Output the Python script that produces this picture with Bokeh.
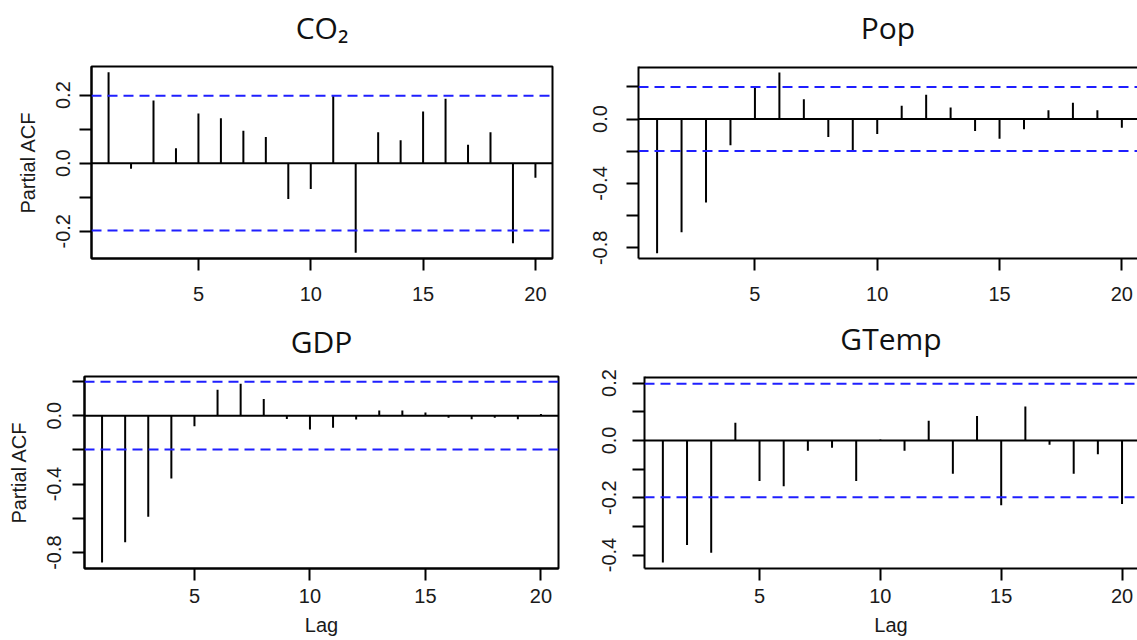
from bokeh.plotting import figure
from bokeh.models import Span, FixedTicker, PrintfTickFormatter, Range1d, ColumnDataSource, Title
from bokeh.layouts import row, column
from bokeh.embed import file_html
from bokeh.resources import INLINE

lags = list(range(1, 21))
co2 = [0.267, -0.016, 0.184, 0.044, 0.146, 0.132, 0.095, 0.077, -0.105, -0.076,
       0.199, -0.263, 0.091, 0.067, 0.152, 0.189, 0.054, 0.091, -0.235, -0.043]
pop = [-0.833, -0.703, -0.518, -0.163, 0.198, 0.289, 0.122, -0.111, -0.198, -0.093,
       0.082, 0.151, 0.072, -0.074, -0.122, -0.064, 0.054, 0.101, 0.054, -0.054]
gdp = [-0.858, -0.740, -0.590, -0.367, -0.062, 0.151, 0.186, 0.097, -0.019, -0.080,
       -0.070, -0.023, 0.031, 0.031, 0.019, -0.012, -0.021, -0.012, -0.021, 0.010]
gtemp = [-0.426, -0.365, -0.392, 0.062, -0.142, -0.160, -0.036, -0.026, -0.142, 0.003,
         -0.036, 0.069, -0.116, 0.085, -0.226, 0.118, -0.015, -0.116, -0.048, -0.222]
clim = 0.198
x_ticks = [5, 10, 15, 20]

AXIS_FONT = "Liberation Sans"
TITLE_FONT = "Open Sans"


def style_axis(ax, label_standoff):
    ax.axis_line_color = "black"
    ax.axis_line_width = 2
    ax.major_tick_line_color = "black"
    ax.major_tick_line_width = 2
    ax.major_tick_out = 12
    ax.major_tick_in = 0
    ax.minor_tick_line_color = "black"
    ax.minor_tick_line_width = 2
    ax.minor_tick_out = 12
    ax.minor_tick_in = 0
    ax.major_label_text_font = AXIS_FONT
    ax.major_label_text_font_size = "20px"
    ax.major_label_text_color = "#1a1a1a"
    ax.major_label_standoff = label_standoff
    ax.axis_label_text_font = AXIS_FONT
    ax.axis_label_text_font_size = "20px"
    ax.axis_label_text_font_style = "normal"
    ax.axis_label_text_color = "#1a1a1a"


def panel(title, vals, y_range, x_end, major, minor, width, height,
          bl, br, bt, bb, x_std, y_std, title_gap,
          ylabel=None, xlabel=None, full_box=True):
    p = figure(width=width, height=height, x_range=Range1d(0.24, x_end),
               y_range=Range1d(*y_range), output_backend="svg",
               toolbar_location=None, min_border_left=bl, min_border_right=br,
               min_border_top=bt, min_border_bottom=bb)
    p.grid.visible = False
    p.background_fill_color = "white"
    p.border_fill_color = "white"

    xa = p.below[0]
    ya = p.left[0]
    xa.ticker = FixedTicker(ticks=x_ticks)
    ya.ticker = FixedTicker(ticks=major, minor_ticks=minor)
    ya.formatter = PrintfTickFormatter(format="%.1f")
    ya.major_label_orientation = "vertical"
    style_axis(xa, x_std)
    style_axis(ya, y_std)
    if ylabel:
        ya.axis_label = ylabel
        ya.axis_label_standoff = 15
    if xlabel:
        xa.axis_label = xlabel
        xa.axis_label_standoff = 8

    if full_box:
        p.outline_line_color = "black"
        p.outline_line_width = 2
    else:
        p.outline_line_color = None
        p.add_layout(Span(location=y_range[1], dimension="width",
                          line_color="black", line_width=4))

    # spacer between frame and title (title sits outermost)
    spacer = Title(text=" ", text_font_size="2px", standoff=max(title_gap - 13.5, 0))
    p.add_layout(spacer, "above")

    p.title.text = title
    p.title.align = "center"
    p.title.text_font = TITLE_FONT
    p.title.text_font_size = "30px"
    p.title.text_font_style = "normal"
    p.title.text_color = "#111111"
    p.title.standoff = 0

    src = ColumnDataSource(dict(lag=lags, zero=[0] * len(lags), val=vals))
    p.segment(x0="lag", y0="zero", x1="lag", y1="val", source=src,
              line_color="black", line_width=2)
    p.add_layout(Span(location=0, dimension="width", line_color="black", line_width=2))
    for c in (clim, -clim):
        p.add_layout(Span(location=c, dimension="width", line_color="#1f1fff",
                          line_width=2, line_dash="10 6"))
    return p


p1 = panel("CO\u2082", co2, (-0.28, 0.284), 20.76, [-0.2, 0.0, 0.2], [-0.1, 0.1],
           560, 310, 91, 8, 66, 52, 16, 9, 28, ylabel="Partial ACF")
p2 = panel("Pop", pop, (-0.866, 0.326), 20.64, [-0.8, -0.4, 0.0], [-0.6, -0.2, 0.2],
           577, 310, 78, 0, 66, 52, 16, 19, 28, full_box=False)
p3 = panel("GDP", gdp, (-0.893, 0.229), 20.76, [-0.8, -0.4, 0.0], [-0.6, -0.2, 0.2],
           560, 330, 84, 2, 66, 72, 8, 11, 24, ylabel="Partial ACF", xlabel="Lag")
p4 = panel("GTemp", gtemp, (-0.447, 0.223), 20.64, [-0.4, -0.2, 0.0, 0.2], [-0.3, -0.1, 0.1],
           577, 330, 84, 0, 66, 72, 8, 16, 27, xlabel="Lag", full_box=False)

layout = column(row(p1, p2), row(p3, p4))
open("out.html", "w").write(file_html(layout, INLINE))
